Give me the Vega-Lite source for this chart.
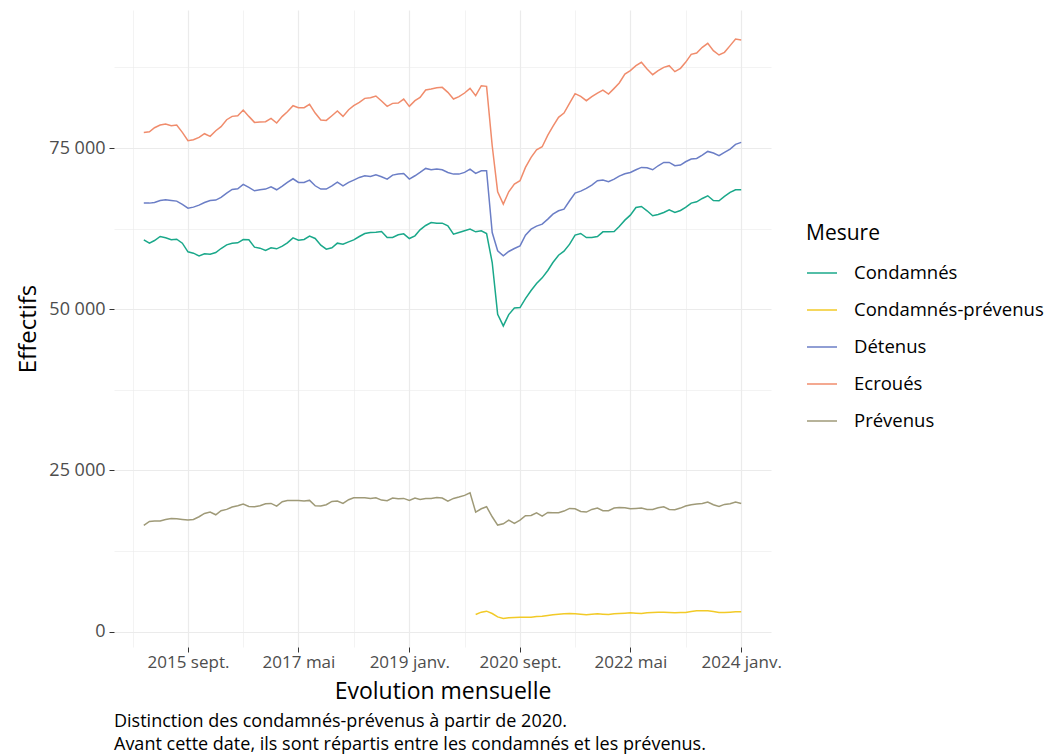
{
"$schema": "https://vega.github.io/schema/vega-lite/v6.json",
"width": 657, "height": 637,
"autosize": {"type": "none"},
"padding": {"left": 114, "top": 10, "right": 278, "bottom": 108},
"background": "white",
"config": {"view": {"stroke": null}, "font": "Open Sans"},
"title": {"text": ["Distinction des condamnés-prévenus à partir de 2020.", "Avant cette date, ils sont répartis entre les condamnés et les prévenus."], "orient": "bottom", "anchor": "start", "frame": "group", "fontSize": 18, "fontWeight": "normal", "color": "#000000", "lineHeight": 23, "offset": 10, "font": "Open Sans"},
"data": {"values": [
{"date":"2015-01-01","Mesure":"Ecroués","Effectifs":77433},{"date":"2015-02-01","Mesure":"Ecroués","Effectifs":77537},{"date":"2015-03-01","Mesure":"Ecroués","Effectifs":78158},{"date":"2015-04-01","Mesure":"Ecroués","Effectifs":78572},{"date":"2015-05-01","Mesure":"Ecroués","Effectifs":78727},{"date":"2015-06-01","Mesure":"Ecroués","Effectifs":78468},{"date":"2015-07-01","Mesure":"Ecroués","Effectifs":78572},{"date":"2015-08-01","Mesure":"Ecroués","Effectifs":77433},{"date":"2015-09-01","Mesure":"Ecroués","Effectifs":76139},{"date":"2015-10-01","Mesure":"Ecroués","Effectifs":76294},{"date":"2015-11-01","Mesure":"Ecroués","Effectifs":76657},{"date":"2015-12-01","Mesure":"Ecroués","Effectifs":77226},
{"date":"2016-01-01","Mesure":"Ecroués","Effectifs":76812},{"date":"2016-02-01","Mesure":"Ecroués","Effectifs":77692},{"date":"2016-03-01","Mesure":"Ecroués","Effectifs":78313},{"date":"2016-04-01","Mesure":"Ecroués","Effectifs":79400},{"date":"2016-05-01","Mesure":"Ecroués","Effectifs":79917},{"date":"2016-06-01","Mesure":"Ecroués","Effectifs":80021},{"date":"2016-07-01","Mesure":"Ecroués","Effectifs":80901},{"date":"2016-08-01","Mesure":"Ecroués","Effectifs":79917},{"date":"2016-09-01","Mesure":"Ecroués","Effectifs":78986},{"date":"2016-10-01","Mesure":"Ecroués","Effectifs":79038},{"date":"2016-11-01","Mesure":"Ecroués","Effectifs":79089},{"date":"2016-12-01","Mesure":"Ecroués","Effectifs":79607},
{"date":"2017-01-01","Mesure":"Ecroués","Effectifs":78882},{"date":"2017-02-01","Mesure":"Ecroués","Effectifs":79917},{"date":"2017-03-01","Mesure":"Ecroués","Effectifs":80642},{"date":"2017-04-01","Mesure":"Ecroués","Effectifs":81574},{"date":"2017-05-01","Mesure":"Ecroués","Effectifs":81263},{"date":"2017-06-01","Mesure":"Ecroués","Effectifs":81263},{"date":"2017-07-01","Mesure":"Ecroués","Effectifs":81781},{"date":"2017-08-01","Mesure":"Ecroués","Effectifs":80435},{"date":"2017-09-01","Mesure":"Ecroués","Effectifs":79348},{"date":"2017-10-01","Mesure":"Ecroués","Effectifs":79296},{"date":"2017-11-01","Mesure":"Ecroués","Effectifs":80021},{"date":"2017-12-01","Mesure":"Ecroués","Effectifs":80746},
{"date":"2018-01-01","Mesure":"Ecroués","Effectifs":79917},{"date":"2018-02-01","Mesure":"Ecroués","Effectifs":80953},{"date":"2018-03-01","Mesure":"Ecroués","Effectifs":81574},{"date":"2018-04-01","Mesure":"Ecroués","Effectifs":82091},{"date":"2018-05-01","Mesure":"Ecroués","Effectifs":82713},{"date":"2018-06-01","Mesure":"Ecroués","Effectifs":82816},{"date":"2018-07-01","Mesure":"Ecroués","Effectifs":83075},{"date":"2018-08-01","Mesure":"Ecroués","Effectifs":82298},{"date":"2018-09-01","Mesure":"Ecroués","Effectifs":81470},{"date":"2018-10-01","Mesure":"Ecroués","Effectifs":81936},{"date":"2018-11-01","Mesure":"Ecroués","Effectifs":81988},{"date":"2018-12-01","Mesure":"Ecroués","Effectifs":82609},
{"date":"2019-01-01","Mesure":"Ecroués","Effectifs":81470},{"date":"2019-02-01","Mesure":"Ecroués","Effectifs":82350},{"date":"2019-03-01","Mesure":"Ecroués","Effectifs":82868},{"date":"2019-04-01","Mesure":"Ecroués","Effectifs":84007},{"date":"2019-05-01","Mesure":"Ecroués","Effectifs":84162},{"date":"2019-06-01","Mesure":"Ecroués","Effectifs":84369},{"date":"2019-07-01","Mesure":"Ecroués","Effectifs":84421},{"date":"2019-08-01","Mesure":"Ecroués","Effectifs":83644},{"date":"2019-09-01","Mesure":"Ecroués","Effectifs":82609},{"date":"2019-10-01","Mesure":"Ecroués","Effectifs":82971},{"date":"2019-11-01","Mesure":"Ecroués","Effectifs":83541},{"date":"2019-12-01","Mesure":"Ecroués","Effectifs":84265},
{"date":"2020-01-01","Mesure":"Ecroués","Effectifs":83127},{"date":"2020-02-01","Mesure":"Ecroués","Effectifs":84679},{"date":"2020-03-01","Mesure":"Ecroués","Effectifs":84576},{"date":"2020-04-01","Mesure":"Ecroués","Effectifs":75363},{"date":"2020-05-01","Mesure":"Ecroués","Effectifs":68220},{"date":"2020-06-01","Mesure":"Ecroués","Effectifs":66305},{"date":"2020-07-01","Mesure":"Ecroués","Effectifs":68220},{"date":"2020-08-01","Mesure":"Ecroués","Effectifs":69410},{"date":"2020-09-01","Mesure":"Ecroués","Effectifs":69928},{"date":"2020-10-01","Mesure":"Ecroués","Effectifs":71998},{"date":"2020-11-01","Mesure":"Ecroués","Effectifs":73551},{"date":"2020-12-01","Mesure":"Ecroués","Effectifs":74741},
{"date":"2021-01-01","Mesure":"Ecroués","Effectifs":75207},{"date":"2021-02-01","Mesure":"Ecroués","Effectifs":77019},{"date":"2021-03-01","Mesure":"Ecroués","Effectifs":78365},{"date":"2021-04-01","Mesure":"Ecroués","Effectifs":79762},{"date":"2021-05-01","Mesure":"Ecroués","Effectifs":80435},{"date":"2021-06-01","Mesure":"Ecroués","Effectifs":81988},{"date":"2021-07-01","Mesure":"Ecroués","Effectifs":83437},{"date":"2021-08-01","Mesure":"Ecroués","Effectifs":83023},{"date":"2021-09-01","Mesure":"Ecroués","Effectifs":82350},{"date":"2021-10-01","Mesure":"Ecroués","Effectifs":82971},{"date":"2021-11-01","Mesure":"Ecroués","Effectifs":83541},{"date":"2021-12-01","Mesure":"Ecroués","Effectifs":84007},
{"date":"2022-01-01","Mesure":"Ecroués","Effectifs":83385},{"date":"2022-02-01","Mesure":"Ecroués","Effectifs":84265},{"date":"2022-03-01","Mesure":"Ecroués","Effectifs":85093},{"date":"2022-04-01","Mesure":"Ecroués","Effectifs":86491},{"date":"2022-05-01","Mesure":"Ecroués","Effectifs":87009},{"date":"2022-06-01","Mesure":"Ecroués","Effectifs":87785},{"date":"2022-07-01","Mesure":"Ecroués","Effectifs":88303},{"date":"2022-08-01","Mesure":"Ecroués","Effectifs":87267},{"date":"2022-09-01","Mesure":"Ecroués","Effectifs":86387},{"date":"2022-10-01","Mesure":"Ecroués","Effectifs":87009},{"date":"2022-11-01","Mesure":"Ecroués","Effectifs":87526},{"date":"2022-12-01","Mesure":"Ecroués","Effectifs":87785},
{"date":"2023-01-01","Mesure":"Ecroués","Effectifs":86853},{"date":"2023-02-01","Mesure":"Ecroués","Effectifs":87371},{"date":"2023-03-01","Mesure":"Ecroués","Effectifs":88303},{"date":"2023-04-01","Mesure":"Ecroués","Effectifs":89545},{"date":"2023-05-01","Mesure":"Ecroués","Effectifs":89752},{"date":"2023-06-01","Mesure":"Ecroués","Effectifs":90632},{"date":"2023-07-01","Mesure":"Ecroués","Effectifs":91253},{"date":"2023-08-01","Mesure":"Ecroués","Effectifs":90114},{"date":"2023-09-01","Mesure":"Ecroués","Effectifs":89441},{"date":"2023-10-01","Mesure":"Ecroués","Effectifs":89855},{"date":"2023-11-01","Mesure":"Ecroués","Effectifs":90891},{"date":"2023-12-01","Mesure":"Ecroués","Effectifs":91926},
{"date":"2024-01-01","Mesure":"Ecroués","Effectifs":91771},
{"date":"2015-01-01","Mesure":"Détenus","Effectifs":66460},{"date":"2015-02-01","Mesure":"Détenus","Effectifs":66460},{"date":"2015-03-01","Mesure":"Détenus","Effectifs":66563},{"date":"2015-04-01","Mesure":"Détenus","Effectifs":66874},{"date":"2015-05-01","Mesure":"Détenus","Effectifs":66977},{"date":"2015-06-01","Mesure":"Détenus","Effectifs":66874},{"date":"2015-07-01","Mesure":"Détenus","Effectifs":66770},{"date":"2015-08-01","Mesure":"Détenus","Effectifs":66253},{"date":"2015-09-01","Mesure":"Détenus","Effectifs":65683},{"date":"2015-10-01","Mesure":"Détenus","Effectifs":65839},{"date":"2015-11-01","Mesure":"Détenus","Effectifs":66149},{"date":"2015-12-01","Mesure":"Détenus","Effectifs":66563},
{"date":"2016-01-01","Mesure":"Détenus","Effectifs":66874},{"date":"2016-02-01","Mesure":"Détenus","Effectifs":66926},{"date":"2016-03-01","Mesure":"Détenus","Effectifs":67340},{"date":"2016-04-01","Mesure":"Détenus","Effectifs":68013},{"date":"2016-05-01","Mesure":"Détenus","Effectifs":68582},{"date":"2016-06-01","Mesure":"Détenus","Effectifs":68686},{"date":"2016-07-01","Mesure":"Détenus","Effectifs":69358},{"date":"2016-08-01","Mesure":"Détenus","Effectifs":68893},{"date":"2016-09-01","Mesure":"Détenus","Effectifs":68375},{"date":"2016-10-01","Mesure":"Détenus","Effectifs":68530},{"date":"2016-11-01","Mesure":"Détenus","Effectifs":68634},{"date":"2016-12-01","Mesure":"Détenus","Effectifs":68996},
{"date":"2017-01-01","Mesure":"Détenus","Effectifs":68530},{"date":"2017-02-01","Mesure":"Détenus","Effectifs":69100},{"date":"2017-03-01","Mesure":"Détenus","Effectifs":69669},{"date":"2017-04-01","Mesure":"Détenus","Effectifs":70238},{"date":"2017-05-01","Mesure":"Détenus","Effectifs":69669},{"date":"2017-06-01","Mesure":"Détenus","Effectifs":69669},{"date":"2017-07-01","Mesure":"Détenus","Effectifs":70031},{"date":"2017-08-01","Mesure":"Détenus","Effectifs":69151},{"date":"2017-09-01","Mesure":"Détenus","Effectifs":68634},{"date":"2017-10-01","Mesure":"Détenus","Effectifs":68634},{"date":"2017-11-01","Mesure":"Détenus","Effectifs":69151},{"date":"2017-12-01","Mesure":"Détenus","Effectifs":69721},
{"date":"2018-01-01","Mesure":"Détenus","Effectifs":69151},{"date":"2018-02-01","Mesure":"Détenus","Effectifs":69669},{"date":"2018-03-01","Mesure":"Détenus","Effectifs":70031},{"date":"2018-04-01","Mesure":"Détenus","Effectifs":70445},{"date":"2018-05-01","Mesure":"Détenus","Effectifs":70704},{"date":"2018-06-01","Mesure":"Détenus","Effectifs":70601},{"date":"2018-07-01","Mesure":"Détenus","Effectifs":70859},{"date":"2018-08-01","Mesure":"Détenus","Effectifs":70549},{"date":"2018-09-01","Mesure":"Détenus","Effectifs":70187},{"date":"2018-10-01","Mesure":"Détenus","Effectifs":70808},{"date":"2018-11-01","Mesure":"Détenus","Effectifs":70963},{"date":"2018-12-01","Mesure":"Détenus","Effectifs":71067},
{"date":"2019-01-01","Mesure":"Détenus","Effectifs":70187},{"date":"2019-02-01","Mesure":"Détenus","Effectifs":70704},{"date":"2019-03-01","Mesure":"Détenus","Effectifs":71222},{"date":"2019-04-01","Mesure":"Détenus","Effectifs":71843},{"date":"2019-05-01","Mesure":"Détenus","Effectifs":71636},{"date":"2019-06-01","Mesure":"Détenus","Effectifs":71739},{"date":"2019-07-01","Mesure":"Détenus","Effectifs":71636},{"date":"2019-08-01","Mesure":"Détenus","Effectifs":71222},{"date":"2019-09-01","Mesure":"Détenus","Effectifs":70963},{"date":"2019-10-01","Mesure":"Détenus","Effectifs":70963},{"date":"2019-11-01","Mesure":"Détenus","Effectifs":71222},{"date":"2019-12-01","Mesure":"Détenus","Effectifs":71739},
{"date":"2020-01-01","Mesure":"Détenus","Effectifs":71067},{"date":"2020-02-01","Mesure":"Détenus","Effectifs":71481},{"date":"2020-03-01","Mesure":"Détenus","Effectifs":71481},{"date":"2020-04-01","Mesure":"Détenus","Effectifs":61905},{"date":"2020-05-01","Mesure":"Détenus","Effectifs":59058},{"date":"2020-06-01","Mesure":"Détenus","Effectifs":58282},{"date":"2020-07-01","Mesure":"Détenus","Effectifs":58955},{"date":"2020-08-01","Mesure":"Détenus","Effectifs":59421},{"date":"2020-09-01","Mesure":"Détenus","Effectifs":59835},{"date":"2020-10-01","Mesure":"Détenus","Effectifs":61491},{"date":"2020-11-01","Mesure":"Détenus","Effectifs":62423},{"date":"2020-12-01","Mesure":"Détenus","Effectifs":62888},
{"date":"2021-01-01","Mesure":"Détenus","Effectifs":63199},{"date":"2021-02-01","Mesure":"Détenus","Effectifs":63975},{"date":"2021-03-01","Mesure":"Détenus","Effectifs":64752},{"date":"2021-04-01","Mesure":"Détenus","Effectifs":65269},{"date":"2021-05-01","Mesure":"Détenus","Effectifs":65528},{"date":"2021-06-01","Mesure":"Détenus","Effectifs":66822},{"date":"2021-07-01","Mesure":"Détenus","Effectifs":68013},{"date":"2021-08-01","Mesure":"Détenus","Effectifs":68323},{"date":"2021-09-01","Mesure":"Détenus","Effectifs":68737},{"date":"2021-10-01","Mesure":"Détenus","Effectifs":69255},{"date":"2021-11-01","Mesure":"Détenus","Effectifs":69928},{"date":"2021-12-01","Mesure":"Détenus","Effectifs":70031},
{"date":"2022-01-01","Mesure":"Détenus","Effectifs":69773},{"date":"2022-02-01","Mesure":"Détenus","Effectifs":70187},{"date":"2022-03-01","Mesure":"Détenus","Effectifs":70652},{"date":"2022-04-01","Mesure":"Détenus","Effectifs":71015},{"date":"2022-05-01","Mesure":"Détenus","Effectifs":71222},{"date":"2022-06-01","Mesure":"Détenus","Effectifs":71636},{"date":"2022-07-01","Mesure":"Détenus","Effectifs":71998},{"date":"2022-08-01","Mesure":"Détenus","Effectifs":71946},{"date":"2022-09-01","Mesure":"Détenus","Effectifs":71636},{"date":"2022-10-01","Mesure":"Détenus","Effectifs":72257},{"date":"2022-11-01","Mesure":"Détenus","Effectifs":72775},{"date":"2022-12-01","Mesure":"Détenus","Effectifs":72775},
{"date":"2023-01-01","Mesure":"Détenus","Effectifs":72257},{"date":"2023-02-01","Mesure":"Détenus","Effectifs":72361},{"date":"2023-03-01","Mesure":"Détenus","Effectifs":72878},{"date":"2023-04-01","Mesure":"Détenus","Effectifs":73292},{"date":"2023-05-01","Mesure":"Détenus","Effectifs":73396},{"date":"2023-06-01","Mesure":"Détenus","Effectifs":73913},{"date":"2023-07-01","Mesure":"Détenus","Effectifs":74483},{"date":"2023-08-01","Mesure":"Détenus","Effectifs":74224},{"date":"2023-09-01","Mesure":"Détenus","Effectifs":73810},{"date":"2023-10-01","Mesure":"Détenus","Effectifs":74327},{"date":"2023-11-01","Mesure":"Détenus","Effectifs":74845},{"date":"2023-12-01","Mesure":"Détenus","Effectifs":75570},
{"date":"2024-01-01","Mesure":"Détenus","Effectifs":75880},
{"date":"2015-01-01","Mesure":"Condamnés","Effectifs":60766},{"date":"2015-02-01","Mesure":"Condamnés","Effectifs":60248},{"date":"2015-03-01","Mesure":"Condamnés","Effectifs":60662},{"date":"2015-04-01","Mesure":"Condamnés","Effectifs":61283},{"date":"2015-05-01","Mesure":"Condamnés","Effectifs":61076},{"date":"2015-06-01","Mesure":"Condamnés","Effectifs":60766},{"date":"2015-07-01","Mesure":"Condamnés","Effectifs":60869},{"date":"2015-08-01","Mesure":"Condamnés","Effectifs":60248},{"date":"2015-09-01","Mesure":"Condamnés","Effectifs":58903},{"date":"2015-10-01","Mesure":"Condamnés","Effectifs":58695},{"date":"2015-11-01","Mesure":"Condamnés","Effectifs":58281},{"date":"2015-12-01","Mesure":"Condamnés","Effectifs":58592},
{"date":"2016-01-01","Mesure":"Condamnés","Effectifs":58540},{"date":"2016-02-01","Mesure":"Condamnés","Effectifs":58799},{"date":"2016-03-01","Mesure":"Condamnés","Effectifs":59420},{"date":"2016-04-01","Mesure":"Condamnés","Effectifs":59989},{"date":"2016-05-01","Mesure":"Condamnés","Effectifs":60248},{"date":"2016-06-01","Mesure":"Condamnés","Effectifs":60300},{"date":"2016-07-01","Mesure":"Condamnés","Effectifs":60818},{"date":"2016-08-01","Mesure":"Condamnés","Effectifs":60766},{"date":"2016-09-01","Mesure":"Condamnés","Effectifs":59627},{"date":"2016-10-01","Mesure":"Condamnés","Effectifs":59472},{"date":"2016-11-01","Mesure":"Condamnés","Effectifs":59110},{"date":"2016-12-01","Mesure":"Condamnés","Effectifs":59524},
{"date":"2017-01-01","Mesure":"Condamnés","Effectifs":59368},{"date":"2017-02-01","Mesure":"Condamnés","Effectifs":59782},{"date":"2017-03-01","Mesure":"Condamnés","Effectifs":60300},{"date":"2017-04-01","Mesure":"Condamnés","Effectifs":61076},{"date":"2017-05-01","Mesure":"Condamnés","Effectifs":60714},{"date":"2017-06-01","Mesure":"Condamnés","Effectifs":60818},{"date":"2017-07-01","Mesure":"Condamnés","Effectifs":61335},{"date":"2017-08-01","Mesure":"Condamnés","Effectifs":60973},{"date":"2017-09-01","Mesure":"Condamnés","Effectifs":59938},{"date":"2017-10-01","Mesure":"Condamnés","Effectifs":59317},{"date":"2017-11-01","Mesure":"Condamnés","Effectifs":59524},{"date":"2017-12-01","Mesure":"Condamnés","Effectifs":60248},
{"date":"2018-01-01","Mesure":"Condamnés","Effectifs":60093},{"date":"2018-02-01","Mesure":"Condamnés","Effectifs":60455},{"date":"2018-03-01","Mesure":"Condamnés","Effectifs":60766},{"date":"2018-04-01","Mesure":"Condamnés","Effectifs":61283},{"date":"2018-05-01","Mesure":"Condamnés","Effectifs":61749},{"date":"2018-06-01","Mesure":"Condamnés","Effectifs":61905},{"date":"2018-07-01","Mesure":"Condamnés","Effectifs":61956},{"date":"2018-08-01","Mesure":"Condamnés","Effectifs":62060},{"date":"2018-09-01","Mesure":"Condamnés","Effectifs":61128},{"date":"2018-10-01","Mesure":"Condamnés","Effectifs":61128},{"date":"2018-11-01","Mesure":"Condamnés","Effectifs":61542},{"date":"2018-12-01","Mesure":"Condamnés","Effectifs":61698},
{"date":"2019-01-01","Mesure":"Condamnés","Effectifs":60973},{"date":"2019-02-01","Mesure":"Condamnés","Effectifs":61387},{"date":"2019-03-01","Mesure":"Condamnés","Effectifs":62319},{"date":"2019-04-01","Mesure":"Condamnés","Effectifs":62992},{"date":"2019-05-01","Mesure":"Condamnés","Effectifs":63457},{"date":"2019-06-01","Mesure":"Condamnés","Effectifs":63354},{"date":"2019-07-01","Mesure":"Condamnés","Effectifs":63354},{"date":"2019-08-01","Mesure":"Condamnés","Effectifs":62940},{"date":"2019-09-01","Mesure":"Condamnés","Effectifs":61646},{"date":"2019-10-01","Mesure":"Condamnés","Effectifs":61905},{"date":"2019-11-01","Mesure":"Condamnés","Effectifs":62163},{"date":"2019-12-01","Mesure":"Condamnés","Effectifs":62422},
{"date":"2020-01-01","Mesure":"Condamnés","Effectifs":62008},{"date":"2020-02-01","Mesure":"Condamnés","Effectifs":62163},{"date":"2020-03-01","Mesure":"Condamnés","Effectifs":61749},{"date":"2020-04-01","Mesure":"Condamnés","Effectifs":57246},{"date":"2020-05-01","Mesure":"Condamnés","Effectifs":49223},{"date":"2020-06-01","Mesure":"Condamnés","Effectifs":47412},{"date":"2020-07-01","Mesure":"Condamnés","Effectifs":49172},{"date":"2020-08-01","Mesure":"Condamnés","Effectifs":50207},{"date":"2020-09-01","Mesure":"Condamnés","Effectifs":50259},{"date":"2020-10-01","Mesure":"Condamnés","Effectifs":51656},{"date":"2020-11-01","Mesure":"Condamnés","Effectifs":52898},{"date":"2020-12-01","Mesure":"Condamnés","Effectifs":53985},
{"date":"2021-01-01","Mesure":"Condamnés","Effectifs":54865},{"date":"2021-02-01","Mesure":"Condamnés","Effectifs":56004},{"date":"2021-03-01","Mesure":"Condamnés","Effectifs":57246},{"date":"2021-04-01","Mesure":"Condamnés","Effectifs":58385},{"date":"2021-05-01","Mesure":"Condamnés","Effectifs":59006},{"date":"2021-06-01","Mesure":"Condamnés","Effectifs":60093},{"date":"2021-07-01","Mesure":"Condamnés","Effectifs":61491},{"date":"2021-08-01","Mesure":"Condamnés","Effectifs":61749},{"date":"2021-09-01","Mesure":"Condamnés","Effectifs":61128},{"date":"2021-10-01","Mesure":"Condamnés","Effectifs":61128},{"date":"2021-11-01","Mesure":"Condamnés","Effectifs":61283},{"date":"2021-12-01","Mesure":"Condamnés","Effectifs":62008},
{"date":"2022-01-01","Mesure":"Condamnés","Effectifs":62008},{"date":"2022-02-01","Mesure":"Condamnés","Effectifs":62060},{"date":"2022-03-01","Mesure":"Condamnés","Effectifs":62836},{"date":"2022-04-01","Mesure":"Condamnés","Effectifs":63820},{"date":"2022-05-01","Mesure":"Condamnés","Effectifs":64596},{"date":"2022-06-01","Mesure":"Condamnés","Effectifs":65787},{"date":"2022-07-01","Mesure":"Condamnés","Effectifs":65942},{"date":"2022-08-01","Mesure":"Condamnés","Effectifs":65269},{"date":"2022-09-01","Mesure":"Condamnés","Effectifs":64493},{"date":"2022-10-01","Mesure":"Condamnés","Effectifs":64700},{"date":"2022-11-01","Mesure":"Condamnés","Effectifs":65010},{"date":"2022-12-01","Mesure":"Condamnés","Effectifs":65424},
{"date":"2023-01-01","Mesure":"Condamnés","Effectifs":65010},{"date":"2023-02-01","Mesure":"Condamnés","Effectifs":65321},{"date":"2023-03-01","Mesure":"Condamnés","Effectifs":65787},{"date":"2023-04-01","Mesure":"Condamnés","Effectifs":66459},{"date":"2023-05-01","Mesure":"Condamnés","Effectifs":66667},{"date":"2023-06-01","Mesure":"Condamnés","Effectifs":67184},{"date":"2023-07-01","Mesure":"Condamnés","Effectifs":67598},{"date":"2023-08-01","Mesure":"Condamnés","Effectifs":66874},{"date":"2023-09-01","Mesure":"Condamnés","Effectifs":66822},{"date":"2023-10-01","Mesure":"Condamnés","Effectifs":67495},{"date":"2023-11-01","Mesure":"Condamnés","Effectifs":68116},{"date":"2023-12-01","Mesure":"Condamnés","Effectifs":68530},
{"date":"2024-01-01","Mesure":"Condamnés","Effectifs":68530},
{"date":"2015-01-01","Mesure":"Prévenus","Effectifs":16460},{"date":"2015-02-01","Mesure":"Prévenus","Effectifs":17081},{"date":"2015-03-01","Mesure":"Prévenus","Effectifs":17133},{"date":"2015-04-01","Mesure":"Prévenus","Effectifs":17133},{"date":"2015-05-01","Mesure":"Prévenus","Effectifs":17392},{"date":"2015-06-01","Mesure":"Prévenus","Effectifs":17547},{"date":"2015-07-01","Mesure":"Prévenus","Effectifs":17495},{"date":"2015-08-01","Mesure":"Prévenus","Effectifs":17392},{"date":"2015-09-01","Mesure":"Prévenus","Effectifs":17288},{"date":"2015-10-01","Mesure":"Prévenus","Effectifs":17392},{"date":"2015-11-01","Mesure":"Prévenus","Effectifs":17806},{"date":"2015-12-01","Mesure":"Prévenus","Effectifs":18323},
{"date":"2016-01-01","Mesure":"Prévenus","Effectifs":18531},{"date":"2016-02-01","Mesure":"Prévenus","Effectifs":18116},{"date":"2016-03-01","Mesure":"Prévenus","Effectifs":18738},{"date":"2016-04-01","Mesure":"Prévenus","Effectifs":18945},{"date":"2016-05-01","Mesure":"Prévenus","Effectifs":19307},{"date":"2016-06-01","Mesure":"Prévenus","Effectifs":19514},{"date":"2016-07-01","Mesure":"Prévenus","Effectifs":19773},{"date":"2016-08-01","Mesure":"Prévenus","Effectifs":19410},{"date":"2016-09-01","Mesure":"Prévenus","Effectifs":19359},{"date":"2016-10-01","Mesure":"Prévenus","Effectifs":19514},{"date":"2016-11-01","Mesure":"Prévenus","Effectifs":19825},{"date":"2016-12-01","Mesure":"Prévenus","Effectifs":19876},
{"date":"2017-01-01","Mesure":"Prévenus","Effectifs":19462},{"date":"2017-02-01","Mesure":"Prévenus","Effectifs":20135},{"date":"2017-03-01","Mesure":"Prévenus","Effectifs":20342},{"date":"2017-04-01","Mesure":"Prévenus","Effectifs":20342},{"date":"2017-05-01","Mesure":"Prévenus","Effectifs":20342},{"date":"2017-06-01","Mesure":"Prévenus","Effectifs":20239},{"date":"2017-07-01","Mesure":"Prévenus","Effectifs":20342},{"date":"2017-08-01","Mesure":"Prévenus","Effectifs":19514},{"date":"2017-09-01","Mesure":"Prévenus","Effectifs":19462},{"date":"2017-10-01","Mesure":"Prévenus","Effectifs":19669},{"date":"2017-11-01","Mesure":"Prévenus","Effectifs":20187},{"date":"2017-12-01","Mesure":"Prévenus","Effectifs":20239},
{"date":"2018-01-01","Mesure":"Prévenus","Effectifs":19876},{"date":"2018-02-01","Mesure":"Prévenus","Effectifs":20446},{"date":"2018-03-01","Mesure":"Prévenus","Effectifs":20756},{"date":"2018-04-01","Mesure":"Prévenus","Effectifs":20756},{"date":"2018-05-01","Mesure":"Prévenus","Effectifs":20756},{"date":"2018-06-01","Mesure":"Prévenus","Effectifs":20653},{"date":"2018-07-01","Mesure":"Prévenus","Effectifs":20756},{"date":"2018-08-01","Mesure":"Prévenus","Effectifs":20394},{"date":"2018-09-01","Mesure":"Prévenus","Effectifs":20290},{"date":"2018-10-01","Mesure":"Prévenus","Effectifs":20704},{"date":"2018-11-01","Mesure":"Prévenus","Effectifs":20601},{"date":"2018-12-01","Mesure":"Prévenus","Effectifs":20653},
{"date":"2019-01-01","Mesure":"Prévenus","Effectifs":20342},{"date":"2019-02-01","Mesure":"Prévenus","Effectifs":20704},{"date":"2019-03-01","Mesure":"Prévenus","Effectifs":20497},{"date":"2019-04-01","Mesure":"Prévenus","Effectifs":20653},{"date":"2019-05-01","Mesure":"Prévenus","Effectifs":20653},{"date":"2019-06-01","Mesure":"Prévenus","Effectifs":20808},{"date":"2019-07-01","Mesure":"Prévenus","Effectifs":20704},{"date":"2019-08-01","Mesure":"Prévenus","Effectifs":20239},{"date":"2019-09-01","Mesure":"Prévenus","Effectifs":20653},{"date":"2019-10-01","Mesure":"Prévenus","Effectifs":20860},{"date":"2019-11-01","Mesure":"Prévenus","Effectifs":21119},{"date":"2019-12-01","Mesure":"Prévenus","Effectifs":21533},
{"date":"2020-01-01","Mesure":"Prévenus","Effectifs":18531},{"date":"2020-02-01","Mesure":"Prévenus","Effectifs":19048},{"date":"2020-03-01","Mesure":"Prévenus","Effectifs":19359},{"date":"2020-04-01","Mesure":"Prévenus","Effectifs":17806},{"date":"2020-05-01","Mesure":"Prévenus","Effectifs":16512},{"date":"2020-06-01","Mesure":"Prévenus","Effectifs":16719},{"date":"2020-07-01","Mesure":"Prévenus","Effectifs":17288},{"date":"2020-08-01","Mesure":"Prévenus","Effectifs":16771},{"date":"2020-09-01","Mesure":"Prévenus","Effectifs":17288},{"date":"2020-10-01","Mesure":"Prévenus","Effectifs":17961},{"date":"2020-11-01","Mesure":"Prévenus","Effectifs":18013},{"date":"2020-12-01","Mesure":"Prévenus","Effectifs":18427},
{"date":"2021-01-01","Mesure":"Prévenus","Effectifs":17909},{"date":"2021-02-01","Mesure":"Prévenus","Effectifs":18479},{"date":"2021-03-01","Mesure":"Prévenus","Effectifs":18427},{"date":"2021-04-01","Mesure":"Prévenus","Effectifs":18427},{"date":"2021-05-01","Mesure":"Prévenus","Effectifs":18686},{"date":"2021-06-01","Mesure":"Prévenus","Effectifs":19100},{"date":"2021-07-01","Mesure":"Prévenus","Effectifs":19048},{"date":"2021-08-01","Mesure":"Prévenus","Effectifs":18634},{"date":"2021-09-01","Mesure":"Prévenus","Effectifs":18531},{"date":"2021-10-01","Mesure":"Prévenus","Effectifs":18945},{"date":"2021-11-01","Mesure":"Prévenus","Effectifs":19152},{"date":"2021-12-01","Mesure":"Prévenus","Effectifs":18738},
{"date":"2022-01-01","Mesure":"Prévenus","Effectifs":18738},{"date":"2022-02-01","Mesure":"Prévenus","Effectifs":19152},{"date":"2022-03-01","Mesure":"Prévenus","Effectifs":19255},{"date":"2022-04-01","Mesure":"Prévenus","Effectifs":19203},{"date":"2022-05-01","Mesure":"Prévenus","Effectifs":19048},{"date":"2022-06-01","Mesure":"Prévenus","Effectifs":19100},{"date":"2022-07-01","Mesure":"Prévenus","Effectifs":19152},{"date":"2022-08-01","Mesure":"Prévenus","Effectifs":18945},{"date":"2022-09-01","Mesure":"Prévenus","Effectifs":18945},{"date":"2022-10-01","Mesure":"Prévenus","Effectifs":19203},{"date":"2022-11-01","Mesure":"Prévenus","Effectifs":19359},{"date":"2022-12-01","Mesure":"Prévenus","Effectifs":18945},
{"date":"2023-01-01","Mesure":"Prévenus","Effectifs":18893},{"date":"2023-02-01","Mesure":"Prévenus","Effectifs":19152},{"date":"2023-03-01","Mesure":"Prévenus","Effectifs":19462},{"date":"2023-04-01","Mesure":"Prévenus","Effectifs":19669},{"date":"2023-05-01","Mesure":"Prévenus","Effectifs":19773},{"date":"2023-06-01","Mesure":"Prévenus","Effectifs":19876},{"date":"2023-07-01","Mesure":"Prévenus","Effectifs":20083},{"date":"2023-08-01","Mesure":"Prévenus","Effectifs":19669},{"date":"2023-09-01","Mesure":"Prévenus","Effectifs":19410},{"date":"2023-10-01","Mesure":"Prévenus","Effectifs":19721},{"date":"2023-11-01","Mesure":"Prévenus","Effectifs":19825},{"date":"2023-12-01","Mesure":"Prévenus","Effectifs":20083},
{"date":"2024-01-01","Mesure":"Prévenus","Effectifs":19876},
{"date":"2020-01-01","Mesure":"Condamnés-prévenus","Effectifs":2640},{"date":"2020-02-01","Mesure":"Condamnés-prévenus","Effectifs":3003},{"date":"2020-03-01","Mesure":"Condamnés-prévenus","Effectifs":3158},{"date":"2020-04-01","Mesure":"Condamnés-prévenus","Effectifs":2795},{"date":"2020-05-01","Mesure":"Condamnés-prévenus","Effectifs":2278},{"date":"2020-06-01","Mesure":"Condamnés-prévenus","Effectifs":2019},{"date":"2020-07-01","Mesure":"Condamnés-prévenus","Effectifs":2123},{"date":"2020-08-01","Mesure":"Condamnés-prévenus","Effectifs":2174},{"date":"2020-09-01","Mesure":"Condamnés-prévenus","Effectifs":2226},{"date":"2020-10-01","Mesure":"Condamnés-prévenus","Effectifs":2226},{"date":"2020-11-01","Mesure":"Condamnés-prévenus","Effectifs":2226},{"date":"2020-12-01","Mesure":"Condamnés-prévenus","Effectifs":2330},
{"date":"2021-01-01","Mesure":"Condamnés-prévenus","Effectifs":2381},{"date":"2021-02-01","Mesure":"Condamnés-prévenus","Effectifs":2485},{"date":"2021-03-01","Mesure":"Condamnés-prévenus","Effectifs":2588},{"date":"2021-04-01","Mesure":"Condamnés-prévenus","Effectifs":2692},{"date":"2021-05-01","Mesure":"Condamnés-prévenus","Effectifs":2744},{"date":"2021-06-01","Mesure":"Condamnés-prévenus","Effectifs":2795},{"date":"2021-07-01","Mesure":"Condamnés-prévenus","Effectifs":2744},{"date":"2021-08-01","Mesure":"Condamnés-prévenus","Effectifs":2692},{"date":"2021-09-01","Mesure":"Condamnés-prévenus","Effectifs":2588},{"date":"2021-10-01","Mesure":"Condamnés-prévenus","Effectifs":2692},{"date":"2021-11-01","Mesure":"Condamnés-prévenus","Effectifs":2744},{"date":"2021-12-01","Mesure":"Condamnés-prévenus","Effectifs":2692},
{"date":"2022-01-01","Mesure":"Condamnés-prévenus","Effectifs":2640},{"date":"2022-02-01","Mesure":"Condamnés-prévenus","Effectifs":2744},{"date":"2022-03-01","Mesure":"Condamnés-prévenus","Effectifs":2795},{"date":"2022-04-01","Mesure":"Condamnés-prévenus","Effectifs":2847},{"date":"2022-05-01","Mesure":"Condamnés-prévenus","Effectifs":2899},{"date":"2022-06-01","Mesure":"Condamnés-prévenus","Effectifs":2847},{"date":"2022-07-01","Mesure":"Condamnés-prévenus","Effectifs":2795},{"date":"2022-08-01","Mesure":"Condamnés-prévenus","Effectifs":2899},{"date":"2022-09-01","Mesure":"Condamnés-prévenus","Effectifs":2951},{"date":"2022-10-01","Mesure":"Condamnés-prévenus","Effectifs":3003},{"date":"2022-11-01","Mesure":"Condamnés-prévenus","Effectifs":3003},{"date":"2022-12-01","Mesure":"Condamnés-prévenus","Effectifs":2951},
{"date":"2023-01-01","Mesure":"Condamnés-prévenus","Effectifs":2899},{"date":"2023-02-01","Mesure":"Condamnés-prévenus","Effectifs":2951},{"date":"2023-03-01","Mesure":"Condamnés-prévenus","Effectifs":2951},{"date":"2023-04-01","Mesure":"Condamnés-prévenus","Effectifs":3106},{"date":"2023-05-01","Mesure":"Condamnés-prévenus","Effectifs":3210},{"date":"2023-06-01","Mesure":"Condamnés-prévenus","Effectifs":3210},{"date":"2023-07-01","Mesure":"Condamnés-prévenus","Effectifs":3210},{"date":"2023-08-01","Mesure":"Condamnés-prévenus","Effectifs":3106},{"date":"2023-09-01","Mesure":"Condamnés-prévenus","Effectifs":2951},{"date":"2023-10-01","Mesure":"Condamnés-prévenus","Effectifs":2951},{"date":"2023-11-01","Mesure":"Condamnés-prévenus","Effectifs":3003},{"date":"2023-12-01","Mesure":"Condamnés-prévenus","Effectifs":3054},
{"date":"2024-01-01","Mesure":"Condamnés-prévenus","Effectifs":3054}
]},
"mark": {"type": "line", "strokeWidth": 1.5},
"encoding": {
  "x": {"field": "date", "type": "temporal",
    "scale": {"type": "utc", "domain": [{"year": 2014, "month": 7, "date": 21, "utc": true}, {"year": 2024, "month": 6, "date": 13, "utc": true}]},
    "axis": {"title": "Evolution mensuelle",
      "values": [{"year": 2014, "month": 11, "date": 1, "utc": true}, {"year": 2015, "month": 9, "date": 1, "utc": true}, {"year": 2016, "month": 7, "date": 1, "utc": true}, {"year": 2017, "month": 5, "date": 1, "utc": true}, {"year": 2018, "month": 3, "date": 1, "utc": true}, {"year": 2019, "month": 1, "date": 1, "utc": true}, {"year": 2019, "month": 11, "date": 1, "utc": true}, {"year": 2020, "month": 9, "date": 1, "utc": true}, {"year": 2021, "month": 7, "date": 1, "utc": true}, {"year": 2022, "month": 5, "date": 1, "utc": true}, {"year": 2023, "month": 3, "date": 1, "utc": true}, {"year": 2024, "month": 1, "date": 1, "utc": true}],
      "labelExpr": "(utcyear(datum.value)*12 + utcmonth(datum.value) - 24188) % 20 == 0 ? utcyear(datum.value) + ' ' + ['janv.','févr.','mars','avr.','mai','juin','juil.','août','sept.','oct.','nov.','déc.'][utcmonth(datum.value)] : ''",
      "domain": false, "tickSize": 5, "tickColor": "#333333",
      "tickOpacity": {"condition": {"test": "(utcyear(datum.value)*12 + utcmonth(datum.value) - 24188) % 20 == 0", "value": 1}, "value": 0},
      "gridColor": "#EBEBEB",
      "gridWidth": {"condition": {"test": "(utcyear(datum.value)*12 + utcmonth(datum.value) - 24188) % 20 == 0", "value": 1.2}, "value": 0.6},
      "labelFontSize": 17, "labelColor": "#4D4D4D", "labelPadding": 2, "labelFlush": false, "labelOverlap": false, "labelFont": "Open Sans",
      "titleFontSize": 23, "titleFontWeight": "normal", "titleColor": "#000000", "titlePadding": 10, "titleFont": "Open Sans"}
  },
  "y": {"field": "Effectifs", "type": "quantitative",
    "scale": {"domain": [-2400, 96420], "nice": false, "zero": false},
    "axis": {"title": "Effectifs",
      "values": [0, 12500, 25000, 37500, 50000, 62500, 75000, 87500],
      "labelExpr": "datum.value % 25000 == 0 ? replace(format(datum.value, ','), ',', ' ') : ''",
      "domain": false, "tickSize": 5, "tickColor": "#333333",
      "tickOpacity": {"condition": {"test": "datum.value % 25000 == 0", "value": 1}, "value": 0},
      "gridColor": "#EBEBEB",
      "gridWidth": {"condition": {"test": "datum.value % 25000 == 0", "value": 1.2}, "value": 0.6},
      "labelFontSize": 18, "labelColor": "#4D4D4D", "labelPadding": 4, "labelFont": "Open Sans",
      "titleFontSize": 24, "titleFontWeight": "normal", "titleColor": "#000000", "titlePadding": 8, "titleFont": "Open Sans"}
  },
  "color": {"field": "Mesure", "type": "nominal",
    "scale": {"domain": ["Condamnés", "Condamnés-prévenus", "Détenus", "Ecroués", "Prévenus"], "range": ["#1AA88A", "#F2CA27", "#6B7EC6", "#F08C6C", "#9F9A78"]},
    "legend": {"orient": "none", "legendX": 692, "legendY": 213, "title": "Mesure", "titleFontSize": 21, "titleFontWeight": "normal", "titleColor": "#000000", "titlePadding": 13, "titleFont": "Open Sans",
      "labelFontSize": 18.5, "labelColor": "#000000", "labelFont": "Open Sans", "labelLimit": 0, "symbolType": "stroke", "symbolSize": 900, "symbolStrokeWidth": 1.5, "labelOffset": 16, "rowPadding": 11, "padding": 0}
  }
}
}
